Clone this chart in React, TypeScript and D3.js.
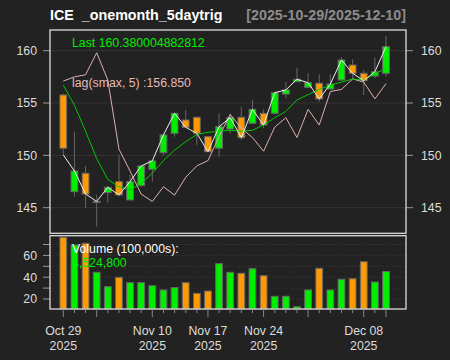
import React from "react";
import * as d3 from "d3";

const dates = [
  "2025-10-29","2025-10-30","2025-10-31","2025-11-03","2025-11-04","2025-11-05","2025-11-06","2025-11-07",
  "2025-11-10","2025-11-11","2025-11-12","2025-11-13","2025-11-14","2025-11-17","2025-11-18","2025-11-19",
  "2025-11-20","2025-11-21","2025-11-24","2025-11-25","2025-11-26","2025-11-28","2025-12-01","2025-12-02",
  "2025-12-03","2025-12-04","2025-12-05","2025-12-08","2025-12-09","2025-12-10",
];
const open = [155.77,146.53,148.29,145.5,146.44,147.49,145.74,147.11,148.67,150.26,152.11,153.38,153.64,151.79,150.68,152.52,153.64,153.07,154.02,154.02,155.86,157.04,156.5,156.89,156.34,157.2,158.63,157.84,157.58,157.84];
const close = [150.68,148.51,146.31,145.6,146.95,146.22,147.49,148.99,149.47,151.95,154.02,152.68,152.11,150.35,152.74,153.6,151.69,154.4,152.9,155.99,156.25,157.27,156.94,155.39,156.82,159.11,157.84,157.13,157.99,160.38];
const high = [155.9,152.26,148.99,146.22,147.08,150.04,148.13,149.05,149.55,152.05,154.1,154.34,153.7,151.85,154.02,154.0,154.65,155.29,154.4,156.1,157.04,158.38,157.84,157.75,157.75,159.37,159.18,158.16,159.33,161.4];
const low = [150.04,146.06,145.0,143.19,145.48,146.06,145.7,147.0,147.49,150.0,151.79,152.6,151.0,150.3,149.88,152.1,151.47,153.0,152.59,153.9,155.45,157.0,156.41,155.13,156.3,157.13,157.27,155.77,157.36,157.52];
const volume = [76.6,69.5,71.1,44.5,31.3,39.9,35.0,35.0,32.2,28.3,30.4,35.0,25.2,27.3,52.4,44.5,43.6,47.8,41.4,22.5,22.5,12.9,28.3,48.2,28.3,38.1,38.6,54.2,35.6,45.248];
const whiteLine = [150.04,148.51,146.31,145.6,146.95,146.22,147.49,148.99,149.47,151.95,154.02,152.68,152.11,150.35,152.74,153.6,151.69,154.4,152.9,155.99,156.25,157.27,156.94,155.39,156.82,159.11,157.84,157.13,157.99,160.38];
const smaLine = [156.7,154.8,152.3,149.7,147.7,147.0,146.7,147.3,148.3,149.5,150.5,151.3,152.0,152.2,152.3,152.4,152.3,152.4,152.9,153.6,154.2,155.3,155.8,156.3,156.7,157.0,157.3,157.2,157.8,158.3];
const lagSmax = [157.1,157.5,157.7,159.8,157.2,150.6,148.5,146.3,145.6,147.0,146.2,147.9,149.0,149.5,151.8,153.9,152.6,151.7,150.4,152.7,153.6,151.7,154.4,152.9,156.1,156.3,157.3,157.0,155.4,156.85];

const priceTicks = [145, 150, 155, 160];
const volTicks = [20, 30, 40, 50, 60, 70];
const volLabels = [20, 40, 60];
const majorIdx = [0, 3, 8, 13, 18, 22, 27, 29];
const xLabels = [
  { i: 0, l1: "Oct 29", l2: "2025" },
  { i: 8, l1: "Nov 10", l2: "2025" },
  { i: 13, l1: "Nov 17", l2: "2025" },
  { i: 18, l1: "Nov 24", l2: "2025" },
  { i: 27, l1: "Dec 08", l2: "2025" },
];

const UP = "#00ee00";
const DOWN = "#ff9900";
const FONT = "'Liberation Sans', Arial, sans-serif";

export default function App() {
  const W = 450, H = 360;
  const L = 50, R = 406;
  const pTop = 30, pBot = 233.3, vTop = 235.7, vBot = 309;
  const x = d3.scaleLinear().domain([0, dates.length - 1]).range([63.3, 386]);
  const y = d3.scaleLinear().domain([145, 160]).range([207.7, 50.7]);
  const yv = d3.scaleLinear().domain([20, 70]).range([299, 244.5]);
  const bw = 6.8;
  const line = (arr: number[]) =>
    d3.line<number>().x((_, i) => x(i)).y((d) => y(d))(arr) || "";

  return (
    <div style={{ position: "absolute", left: 0, top: 0 }}>
      <svg width={W} height={H} style={{ display: "block", fontFamily: FONT }}>
        <rect x={0} y={0} width={W} height={H} fill="#222222" />
        {/* title */}
        <text x={50} y={19.5} fill="#ffffff" fontSize={14.3} fontWeight="bold" style={{ whiteSpace: "pre" }}>
          {"ICE  _onemonth_5daytrig"}
        </text>
        <text x={406} y={19.5} fill="#8c8c8c" fontSize={14.3} fontWeight="bold" textAnchor="end">
          [2025-10-29/2025-12-10]
        </text>

        {/* price grid */}
        {priceTicks.map((t) => (
          <line key={"g" + t} x1={L} x2={R} y1={y(t)} y2={y(t)} stroke="#343434" strokeWidth={1} />
        ))}
        {/* price ticks & labels */}
        {priceTicks.map((t) => (
          <g key={"pt" + t}>
            <line x1={43} x2={L} y1={y(t)} y2={y(t)} stroke="#999" />
            <line x1={R} x2={413} y1={y(t)} y2={y(t)} stroke="#999" />
            <text x={37} y={y(t) + 4.3} fill="#dddddd" fontSize={12.3} textAnchor="end">{t}</text>
            <text x={421} y={y(t) + 4.3} fill="#dddddd" fontSize={12.3}>{t}</text>
          </g>
        ))}

        {/* candles */}
        {dates.map((d, i) => {
          const up = close[i] >= open[i];
          const top = y(Math.max(open[i], close[i]));
          const bot = y(Math.min(open[i], close[i]));
          return (
            <g key={"c" + d}>
              <line x1={x(i)} x2={x(i)} y1={y(high[i])} y2={y(low[i])} stroke="#666" strokeWidth={1} />
              <rect x={x(i) - bw / 2} y={top} width={bw} height={Math.max(bot - top, 1)}
                fill={up ? UP : DOWN} stroke="#666" strokeWidth={1} />
            </g>
          );
        })}

        {/* overlay lines */}
        <path d={line(lagSmax)} fill="none" stroke="#deb0b0" strokeWidth={1} />
        <path d={line(smaLine)} fill="none" stroke="#00c800" strokeWidth={1} />
        <path d={line(whiteLine)} fill="none" stroke="#eeeeee" strokeWidth={1} />

        {/* legends */}
        <text x={72} y={46.5} fill={UP} fontSize={12.3}>Last 160.380004882812</text>
        <text x={72} y={87.3} fill="#e8b8b8" fontSize={12.3}>lag(smax, 5) :156.850</text>

        {/* price panel frame */}
        <rect x={L} y={pTop} width={R - L} height={pBot - pTop} fill="none" stroke="#dddddd" strokeWidth={1.3} />

        {/* volume grid */}
        {volTicks.map((t) => (
          <g key={"vt" + t}>
            <line x1={L} x2={R} y1={yv(t)} y2={yv(t)} stroke="#3c3c3c" strokeDasharray="1,2" />
            <line x1={43} x2={L} y1={yv(t)} y2={yv(t)} stroke="#999" />
          </g>
        ))}
        {volLabels.map((t) => (
          <text key={"vl" + t} x={37} y={yv(t) + 4.3} fill="#dddddd" fontSize={12.3} textAnchor="end">{t}</text>
        ))}

        {/* volume bars */}
        {dates.map((d, i) => {
          const up = close[i] >= open[i];
          return (
            <rect key={"v" + d} x={x(i) - bw / 2} y={yv(volume[i])} width={bw} height={vBot - yv(volume[i])}
              fill={up ? UP : DOWN} stroke="#666" strokeWidth={1} />
          );
        })}

        <text x={72} y={252.5} fill="#ffffff" fontSize={12.3}>Volume (100,000s):</text>
        <text x={72} y={266.5} fill={UP} fontSize={12.3}>4,524,800</text>

        {/* volume frame */}
        <rect x={L} y={vTop} width={R - L} height={vBot - vTop} fill="none" stroke="#dddddd" strokeWidth={1.3} />

        {/* x axis ticks */}
        {dates.map((d, i) => (
          <line key={"xt" + d} x1={x(i)} x2={x(i)} y1={vBot} y2={majorIdx.includes(i) ? 317 : 313}
            stroke="#888" strokeWidth={1} />
        ))}
        {xLabels.map((lb) => (
          <g key={"xl" + lb.i}>
            <text x={x(lb.i)} y={335} fill="#dddddd" fontSize={12.3} textAnchor="middle">{lb.l1}</text>
            <text x={x(lb.i)} y={350} fill="#dddddd" fontSize={12.3} textAnchor="middle">{lb.l2}</text>
          </g>
        ))}
      </svg>
    </div>
  );
}
